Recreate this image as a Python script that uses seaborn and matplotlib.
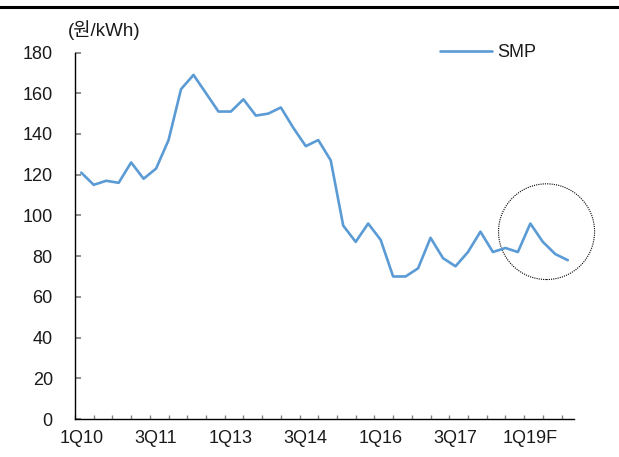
import matplotlib
matplotlib.use("Agg")
import matplotlib.pyplot as plt
from matplotlib.patches import Ellipse
from matplotlib.lines import Line2D
import seaborn as sns
import pandas as pd

# --- data: quarterly SMP, 1Q10 ~ 4Q19F ---
quarters = [f"{q}Q{y:02d}" for y in range(10, 20) for q in range(1, 5)]
smp = [121, 115, 117, 116, 126, 118, 123, 137,
       162, 169, 160, 151, 151, 157, 149, 150,
       153, 143, 134, 137, 127, 95, 87, 96,
       88, 70, 70, 74, 89, 79, 75, 82,
       92, 82, 84, 82, 96, 87, 81, 78]
tick_labels = ["1Q10", "3Q11", "1Q13", "3Q14", "1Q16", "3Q17", "1Q19F"]
tick_pos = [0, 6, 12, 18, 24, 30, 36]

df = pd.DataFrame({"idx": range(len(smp)), "quarter": quarters, "SMP": smp})

sns.set_theme(style="white")
plt.rcParams["font.family"] = ["Liberation Sans", "Noto Sans CJK KR", "DejaVu Sans"]
txt_color = "#1a1a1a"

fig = plt.figure(figsize=(6.19, 4.57), dpi=100)
ax = fig.add_axes([75 / 619, 1 - 419 / 457, 499 / 619, 366.5 / 457])

sns.lineplot(data=df, x="idx", y="SMP", ax=ax, color="#5B9BD5", linewidth=1.9, label="SMP")

ax.set_xlim(-0.5, 39.5)
ax.set_ylim(0, 180)
ax.set_yticks(range(0, 181, 20))
ax.set_xticks(tick_pos)
ax.set_xticklabels(tick_labels)
ax.set_xticks([-0.5 + 1.5 * k for k in range(27)], minor=True)
ax.set_xlabel("")
ax.set_ylabel("")

for s in ["top", "right"]:
    ax.spines[s].set_visible(False)
for s in ["left", "bottom"]:
    ax.spines[s].set_color("black")
    ax.spines[s].set_linewidth(1.0)

ax.tick_params(axis="y", direction="in", length=4, color="#808080", labelsize=13,
               labelcolor=txt_color, pad=16, left=True)
ax.tick_params(axis="x", which="major", length=0, labelsize=13, labelcolor=txt_color, pad=8)
ax.tick_params(axis="x", which="minor", direction="in", length=3, color="#808080", bottom=True)

# dotted circle around forecast
ax.add_patch(Ellipse((37.3, 92), width=7.7, height=47, fill=False, clip_on=False,
                     edgecolor="black", linestyle=(0, (1, 1)), linewidth=0.8))

leg = ax.legend(loc="center left", bbox_to_anchor=((440 - 75) / 499, 1.0), frameon=False,
                fontsize=13, handlelength=2.9, handletextpad=0.25, borderpad=0, borderaxespad=0)
for t in leg.get_texts():
    t.set_color(txt_color)

fig.text(68 / 619, 1 - 30 / 457, "(원/kWh)", ha="left", va="center", fontsize=13.5, color=txt_color)
fig.add_artist(Line2D([0, 1], [1 - 6.5 / 457, 1 - 6.5 / 457], color="black", linewidth=2.2,
                      transform=fig.transFigure))

fig.savefig("out.png", dpi=100)
